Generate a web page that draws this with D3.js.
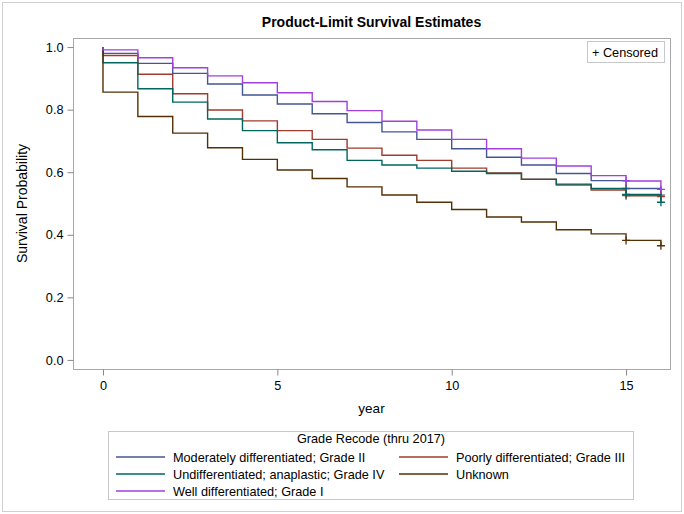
<!DOCTYPE html>
<html>
<head>
<meta charset="utf-8">
<script src="https://cdn.jsdelivr.net/npm/d3@7"></script>
<style>
  body { margin: 0; background: #fff; }
  text { font-family: "Liberation Sans", Arial, sans-serif; fill: #000; }
</style>
</head>
<body>
<div id="chart"></div>
<script>
// --------------------------------------
//  Data
// --------------------------------------

const years = [0, 1, 2, 3, 4, 5, 6, 7, 8, 9, 10, 11, 12, 13, 14, 15, 16];

const groups = [
  "Moderately differentiated; Grade II",
  "Poorly differentiated; Grade III",
  "Undifferentiated; anaplastic; Grade IV",
  "Unknown",
  "Well differentiated; Grade I"
];

const moderately = [0.980, 0.948, 0.916, 0.882, 0.847, 0.818, 0.787, 0.759, 0.729, 0.705, 0.675, 0.648, 0.623, 0.596, 0.573, 0.548, 0.527];
const poorly     = [0.973, 0.913, 0.851, 0.799, 0.764, 0.733, 0.705, 0.677, 0.654, 0.638, 0.613, 0.598, 0.578, 0.559, 0.543, 0.525, 0.522];
const undiff     = [0.950, 0.867, 0.824, 0.770, 0.733, 0.694, 0.672, 0.638, 0.623, 0.613, 0.603, 0.596, 0.577, 0.562, 0.548, 0.529, 0.504];
const unknown    = [0.856, 0.778, 0.725, 0.678, 0.641, 0.607, 0.580, 0.553, 0.527, 0.504, 0.481, 0.457, 0.441, 0.416, 0.403, 0.382, 0.365];
const well       = [0.991, 0.966, 0.934, 0.908, 0.886, 0.854, 0.826, 0.797, 0.763, 0.735, 0.705, 0.675, 0.645, 0.620, 0.589, 0.572, 0.545];

const censorYears = [15, 16];
const xTicks = [0, 5, 10, 15];
const yTicks = [0, 0.2, 0.4, 0.6, 0.8, 1.0];

const series = [moderately, poorly, undiff, unknown, well];

// --------------------------------------
//  Canvas
// --------------------------------------

const width = 684;
const height = 514;
const margin = { top: 38, right: 14, bottom: 145, left: 73 };

const svg = d3.select("#chart")
  .append("svg")
  .attr("width", width)
  .attr("height", height);

svg.append("rect")
  .attr("x", 2.5).attr("y", 2.5)
  .attr("width", width - 5).attr("height", height - 5)
  .attr("fill", "#fff")
  .attr("stroke", "#d0d0d0");

// --------------------------------------
//  Scales
// --------------------------------------

const x = d3.scaleLinear([-0.86, 16.26], [margin.left, width - margin.right]);
const y = d3.scaleLinear([-0.029, 1.029], [height - margin.bottom, margin.top]);
const c = d3.scaleOrdinal(groups, ["#445694", "#A23A2E", "#01665E", "#543005", "#A23FE0"]);

// frame
svg.append("rect")
  .attr("x", margin.left + 0.5)
  .attr("y", margin.top + 0.5)
  .attr("width", width - margin.left - margin.right)
  .attr("height", height - margin.top - margin.bottom)
  .attr("fill", "none")
  .attr("stroke", "#a8a8a8");

// --------------------------------------
//  Axes
// --------------------------------------

const xAxis = svg.append("g")
  .attr("transform", `translate(0,${height - margin.bottom + 0.5})`)
  .call(d3.axisBottom(x).tickValues(xTicks).tickSize(6).tickPadding(5).tickFormat(d3.format("d")));
xAxis.select(".domain").remove();
xAxis.selectAll("line").attr("stroke", "#888");
xAxis.selectAll("text").style("font-size", "12.7px").attr("fill", "#000");

const yAxis = svg.append("g")
  .attr("transform", `translate(${margin.left + 0.5},0)`)
  .call(d3.axisLeft(y).tickValues(yTicks).tickSize(6).tickPadding(4).tickFormat(d3.format(".1f")));
yAxis.select(".domain").remove();
yAxis.selectAll("line").attr("stroke", "#888");
yAxis.selectAll("text").style("font-size", "12.7px").attr("fill", "#000");

svg.append("text")
  .attr("x", (margin.left + width - margin.right) / 2)
  .attr("y", 413)
  .attr("text-anchor", "middle")
  .style("font-size", "13.5px")
  .text("year");

svg.append("text")
  .attr("transform", `translate(27,${(margin.top + height - margin.bottom) / 2}) rotate(-90)`)
  .attr("text-anchor", "middle")
  .style("font-size", "14px")
  .text("Survival Probability");

svg.append("text")
  .attr("x", (margin.left + width - margin.right) / 2)
  .attr("y", 27)
  .attr("text-anchor", "middle")
  .style("font-size", "14px")
  .style("font-weight", "bold")
  .text("Product-Limit Survival Estimates");

// --------------------------------------
//  Curves
// --------------------------------------

const line = d3.line()
  .x(d => x(d[0]))
  .y(d => y(d[1]))
  .curve(d3.curveStepAfter);

series.forEach((vals, i) => {
  const pts = [[0, 1]].concat(years.map((t, k) => [t, vals[k]]));
  svg.append("path")
    .datum(pts)
    .attr("fill", "none")
    .attr("stroke", c(groups[i]))
    .attr("stroke-width", 1.4)
    .attr("d", line);

  svg.selectAll(null)
    .data(censorYears)
    .join("path")
    .attr("d", t => {
      const px = x(t), py = y(vals[years.indexOf(t)]);
      return `M${px - 4},${py}H${px + 4}M${px},${py - 4}V${py + 4}`;
    })
    .attr("stroke", c(groups[i]))
    .attr("stroke-width", 1.3);
});

// censored legend
const cg = svg.append("g");
cg.append("rect")
  .attr("x", 587.5).attr("y", 41.5)
  .attr("width", 77).attr("height", 21)
  .attr("fill", "#fff")
  .attr("stroke", "#c8c8c8");
cg.append("text")
  .attr("x", 592).attr("y", 57)
  .style("font-size", "12.7px")
  .text("+ Censored");

// --------------------------------------
//  Legend
// --------------------------------------

const lg = svg.append("g");
lg.append("rect")
  .attr("x", 108.5).attr("y", 431.5)
  .attr("width", 525).attr("height", 68)
  .attr("fill", "#fff")
  .attr("stroke", "#c8c8c8");

lg.append("text")
  .attr("x", 371)
  .attr("y", 443)
  .attr("text-anchor", "middle")
  .style("font-size", "12.7px")
  .text("Grade Recode (thru 2017)");

const cols = [116, 399];
const rows = [457, 474, 491];

lg.selectAll("g.item")
  .data(groups)
  .join("g")
  .attr("class", "item")
  .attr("transform", (d, i) => `translate(${cols[i % 2]},${rows[Math.floor(i / 2)]})`)
  .each(function (d) {
    const g = d3.select(this);
    g.append("line")
      .attr("x1", 0).attr("x2", 49)
      .attr("y1", 0).attr("y2", 0)
      .attr("stroke", c(d))
      .attr("stroke-width", 1.3);
    g.append("text")
      .attr("x", 57)
      .attr("y", 4.5)
      .style("font-size", "12.7px")
      .text(d);
  });
</script>
</body>
</html>
